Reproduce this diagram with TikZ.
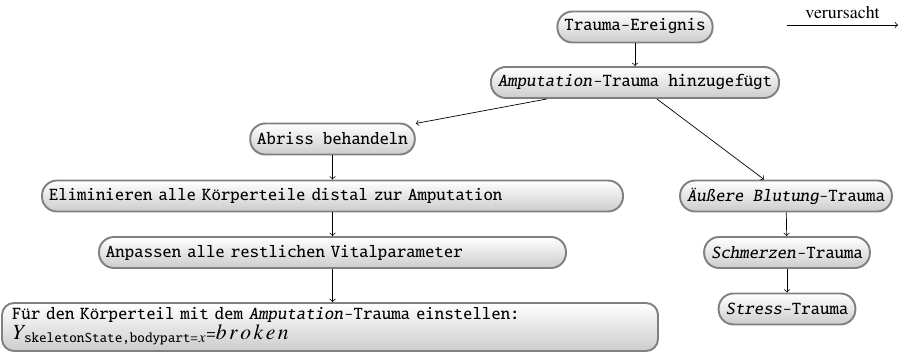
\documentclass[tikz,border=0pt]{standalone}
\usepackage{amsmath}
\usepackage[T1]{fontenc}
\usepackage{txfonts}

\begin{document}
\begin{tikzpicture}[x=.2mm,y=-.2mm]
      \useasboundingbox (0,0) rectangle (904,353);

      \begin{scope}[every node/.style={draw=black!50,line width=1.1pt,rounded corners=3mm,
          top color=white,bottom color=black!20,minimum height=6.2mm,
          inner xsep=1.4mm,inner ysep=0pt,font=\fontsize{10.2}{11.4}\ttfamily}]
        \node (1) at (635,27)    {Trauma-Ereignis};
        \node (2) at (635,82.5)  {\textit{Amputation}-Trauma hinzugef\"ugt};
        \node (3) at (332.5,139) {Abriss behandeln};
        \node[text width=113.4mm,align=left] (4) at (332.5,196)
          {Eliminieren alle K\"orperteile distal zur Amputation};
        \node[text width=90.6mm,align=left] (5) at (332.5,252.5)
          {Anpassen alle restlichen Vitalparameter};
        \node[text width=127.2mm,align=left,inner xsep=2mm,minimum height=9.6mm,
          rounded corners=2.4mm] (6) at (330,327)
          {F\"ur den K\"orperteil mit dem \textit{Amputation}-Trauma einstellen:\\
           {\fontsize{12.3}{14}\selectfont$Y_{\mbox{\fontsize{8.2}{9}\ttfamily skeletonState,bodypart=}x}$}=%
           {\fontsize{12.3}{14}\selectfont$b\mkern2mu r\mkern2mu o\mkern2mu k\mkern2mu e\mkern2mu n$}};
        \node (7) at (786,196)   {\textit{\"Au\ss{}ere Blutung}-Trauma};
        \node (8) at (787,252.5) {\textit{Schmerzen}-Trauma};
        \node (9) at (787,309)   {\textit{Stress}-Trauma};
      \end{scope}

      \coordinate (10) at (787,25);
      \coordinate (11) at (898,25);

      \begin{scope}[every edge/.style={draw,->}]
        \path (1)  edge (2);
        \path (2)  edge (3);
        \path (2)  edge (7);
        \path (3)  edge (4);
        \path (4)  edge (5);
        \path (5)  edge (5 |- 6.north);
        \path (7)  edge (8);
        \path (8)  edge (9);
        \path (10) edge node[above,font=\fontsize{10.2}{12}\selectfont] {verursacht} (11);
      \end{scope}

    \end{tikzpicture}
\end{document}
